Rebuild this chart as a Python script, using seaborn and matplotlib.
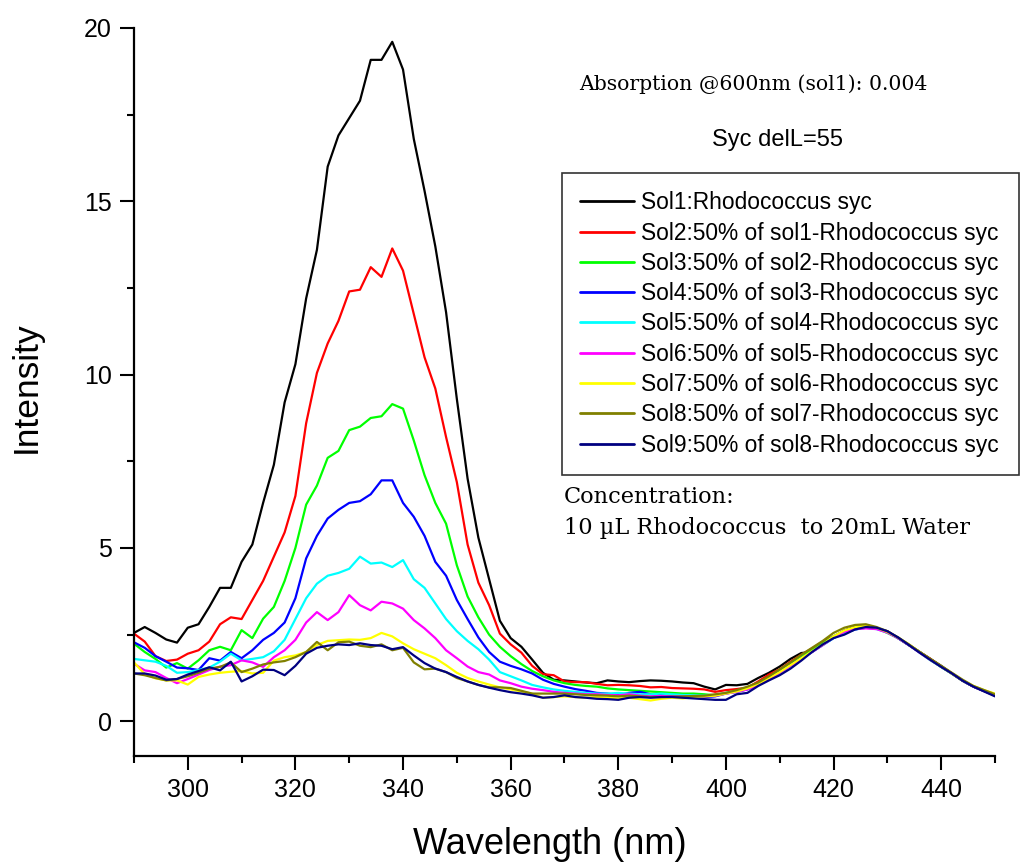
import numpy as np
import pandas as pd
import matplotlib
matplotlib.use("Agg")
import matplotlib.pyplot as plt
from matplotlib.ticker import MultipleLocator
import seaborn as sns

wavelength = list(range(290, 451, 2))

sol1 = [2.55, 2.72, 2.55, 2.36, 2.27, 2.7, 2.8, 3.3, 3.85, 3.85, 4.6, 5.1, 6.3, 7.4, 9.2, 10.3, 12.2, 13.6, 16.0, 16.9,
        17.4, 17.9, 19.08, 19.08, 19.6, 18.8, 16.8, 15.3, 13.7, 11.8, 9.3, 7.0, 5.3, 4.1, 2.9, 2.4, 2.15, 1.78, 1.4, 1.2,
        1.18, 1.15, 1.12, 1.1, 1.18, 1.15, 1.13, 1.16, 1.18, 1.17, 1.15, 1.12, 1.1, 1.0, 0.92, 1.05, 1.04, 1.08, 1.25, 1.4,
        1.58, 1.8, 1.97, 2.0, 2.25, 2.43, 2.62, 2.72, 2.75, 2.68, 2.6, 2.4, 2.2, 2.0, 1.8, 1.6, 1.38, 1.17, 1.0, 0.88, 0.75]
sol2 = [2.53, 2.3, 1.88, 1.74, 1.78, 1.95, 2.05, 2.3, 2.8, 3.0, 2.95, 3.5, 4.05, 4.75, 5.45, 6.5, 8.6, 10.05, 10.9, 11.55,
        12.4, 12.45, 13.1, 12.82, 13.64, 13.0, 11.75, 10.5, 9.6, 8.2, 6.9, 5.1, 4.0, 3.35, 2.53, 2.22, 1.98, 1.6, 1.36, 1.33,
        1.15, 1.13, 1.13, 1.08, 1.04, 1.05, 1.04, 1.02, 0.98, 0.99, 0.96, 0.95, 0.94, 0.92, 0.85, 0.9, 0.93, 0.97, 1.15, 1.35,
        1.5, 1.72, 1.92, 2.1, 2.3, 2.45, 2.6, 2.68, 2.72, 2.68, 2.58, 2.4, 2.2, 2.0, 1.8, 1.58, 1.38, 1.17, 1.0, 0.87, 0.75]
sol3 = [2.24, 2.0, 1.8, 1.55, 1.68, 1.52, 1.76, 2.05, 2.15, 2.05, 2.63, 2.4, 2.96, 3.3, 4.05, 5.0, 6.25, 6.8, 7.6, 7.8,
        8.4, 8.5, 8.75, 8.8, 9.15, 9.02, 8.1, 7.1, 6.3, 5.7, 4.5, 3.6, 3.0, 2.5, 2.15, 1.88, 1.65, 1.45, 1.3, 1.18,
        1.1, 1.05, 1.02, 1.0, 0.95, 0.92, 0.9, 0.88, 0.86, 0.84, 0.82, 0.8, 0.8, 0.78, 0.75, 0.82, 0.88, 0.95, 1.1, 1.28,
        1.45, 1.65, 1.85, 2.05, 2.25, 2.45, 2.6, 2.7, 2.72, 2.68, 2.55, 2.4, 2.2, 2.0, 1.78, 1.57, 1.37, 1.17, 1.0, 0.88, 0.77]
sol4 = [2.28, 2.12, 1.88, 1.72, 1.55, 1.53, 1.48, 1.82, 1.75, 2.0, 1.82, 2.05, 2.35, 2.55, 2.85, 3.55, 4.7, 5.35, 5.85, 6.1,
        6.3, 6.35, 6.55, 6.95, 6.95, 6.3, 5.9, 5.35, 4.6, 4.2, 3.5, 2.95, 2.42, 2.0, 1.72, 1.6, 1.5, 1.38, 1.2, 1.08,
        1.0, 0.93, 0.88, 0.82, 0.8, 0.76, 0.82, 0.85, 0.78, 0.75, 0.74, 0.72, 0.72, 0.7, 0.72, 0.8, 0.85, 0.92, 1.05, 1.25,
        1.42, 1.62, 1.82, 2.0, 2.2, 2.4, 2.55, 2.65, 2.7, 2.68, 2.58, 2.4, 2.2, 2.0, 1.78, 1.57, 1.38, 1.17, 1.0, 0.87, 0.74]
sol5 = [1.8, 1.76, 1.72, 1.6, 1.4, 1.42, 1.48, 1.55, 1.72, 1.95, 1.76, 1.8, 1.85, 2.02, 2.35, 2.95, 3.55, 3.97, 4.2, 4.28,
        4.4, 4.75, 4.55, 4.58, 4.45, 4.65, 4.1, 3.85, 3.4, 2.95, 2.6, 2.32, 2.08, 1.78, 1.42, 1.3, 1.18, 1.05, 0.98, 0.92,
        0.88, 0.85, 0.82, 0.8, 0.8, 0.82, 0.8, 0.78, 0.78, 0.8, 0.78, 0.76, 0.75, 0.74, 0.76, 0.82, 0.86, 0.93, 1.05, 1.22,
        1.4, 1.6, 1.8, 2.0, 2.2, 2.4, 2.55, 2.65, 2.7, 2.66, 2.56, 2.4, 2.2, 1.98, 1.76, 1.57, 1.38, 1.18, 1.0, 0.88, 0.77]
sol6 = [1.66, 1.47, 1.42, 1.25, 1.1, 1.22, 1.35, 1.48, 1.58, 1.62, 1.76, 1.7, 1.57, 1.85, 2.05, 2.35, 2.85, 3.15, 2.92, 3.15,
        3.64, 3.35, 3.2, 3.45, 3.4, 3.25, 2.92, 2.68, 2.4, 2.05, 1.82, 1.58, 1.42, 1.35, 1.18, 1.1, 1.0, 0.94, 0.9, 0.85,
        0.82, 0.8, 0.78, 0.78, 0.76, 0.75, 0.78, 0.74, 0.72, 0.73, 0.72, 0.72, 0.73, 0.72, 0.74, 0.8, 0.85, 0.92, 1.05, 1.22,
        1.4, 1.6, 1.8, 2.0, 2.2, 2.42, 2.58, 2.66, 2.68, 2.66, 2.56, 2.4, 2.2, 1.98, 1.77, 1.58, 1.38, 1.18, 1.0, 0.88, 0.78]
sol7 = [1.7, 1.36, 1.24, 1.18, 1.18, 1.06, 1.28, 1.35, 1.4, 1.43, 1.45, 1.38, 1.4, 1.75, 1.85, 1.9, 2.0, 2.2, 2.32, 2.34,
        2.36, 2.35, 2.4, 2.55, 2.45, 2.25, 2.08, 1.95, 1.82, 1.62, 1.4, 1.25, 1.15, 1.06, 0.98, 0.92, 0.86, 0.8, 0.68, 0.7,
        0.72, 0.7, 0.68, 0.7, 0.68, 0.66, 0.68, 0.64, 0.6, 0.65, 0.68, 0.66, 0.7, 0.72, 0.74, 0.8, 0.86, 0.95, 1.08, 1.25,
        1.42, 1.62, 1.82, 2.02, 2.22, 2.45, 2.62, 2.72, 2.76, 2.7, 2.58, 2.42, 2.22, 2.0, 1.78, 1.58, 1.38, 1.18, 1.02, 0.9, 0.8]
sol8 = [1.38, 1.33, 1.25, 1.18, 1.22, 1.3, 1.4, 1.52, 1.57, 1.7, 1.42, 1.52, 1.64, 1.7, 1.74, 1.85, 2.0, 2.29, 2.05, 2.28,
        2.3, 2.18, 2.14, 2.22, 2.05, 2.12, 1.7, 1.5, 1.52, 1.42, 1.25, 1.15, 1.05, 0.98, 0.98, 0.96, 0.88, 0.8, 0.8, 0.8,
        0.8, 0.78, 0.76, 0.75, 0.74, 0.72, 0.74, 0.72, 0.7, 0.7, 0.71, 0.72, 0.73, 0.74, 0.78, 0.82, 0.9, 1.0, 1.12, 1.3,
        1.5, 1.7, 1.92, 2.12, 2.32, 2.55, 2.7, 2.78, 2.8, 2.72, 2.6, 2.42, 2.22, 2.0, 1.8, 1.6, 1.4, 1.2, 1.02, 0.9, 0.78]
sol9 = [1.38, 1.38, 1.32, 1.2, 1.22, 1.35, 1.45, 1.56, 1.47, 1.72, 1.15, 1.3, 1.49, 1.48, 1.33, 1.6, 1.95, 2.12, 2.18, 2.22,
        2.2, 2.25, 2.2, 2.18, 2.08, 2.14, 1.9, 1.68, 1.52, 1.42, 1.28, 1.15, 1.05, 0.97, 0.9, 0.84, 0.8, 0.75, 0.68, 0.7,
        0.75, 0.7, 0.68, 0.65, 0.64, 0.62, 0.68, 0.7, 0.68, 0.7, 0.7, 0.68, 0.66, 0.64, 0.62, 0.62, 0.78, 0.82, 1.02, 1.18,
        1.33, 1.52, 1.75, 2.0, 2.22, 2.4, 2.5, 2.65, 2.72, 2.7, 2.6, 2.42, 2.2, 1.98, 1.77, 1.57, 1.38, 1.17, 1.0, 0.86, 0.72]

series_labels = [
    "Sol1:Rhodococcus syc",
    "Sol2:50% of sol1-Rhodococcus syc",
    "Sol3:50% of sol2-Rhodococcus syc",
    "Sol4:50% of sol3-Rhodococcus syc",
    "Sol5:50% of sol4-Rhodococcus syc",
    "Sol6:50% of sol5-Rhodococcus syc",
    "Sol7:50% of sol6-Rhodococcus syc",
    "Sol8:50% of sol7-Rhodococcus syc",
    "Sol9:50% of sol8-Rhodococcus syc",
]
series_values = [sol1, sol2, sol3, sol4, sol5, sol6, sol7, sol8, sol9]
colors = ["#000000", "#FF0000", "#00FF00", "#0000FF", "#00FFFF",
          "#FF00FF", "#FFFF00", "#808000", "#000080"]

frames = []
for lab, vals in zip(series_labels, series_values):
    frames.append(pd.DataFrame({"Wavelength": wavelength, "Intensity": vals, "Series": lab}))
df = pd.concat(frames, ignore_index=True)

sns.set_style("ticks")
plt.rcParams["font.family"] = ["Liberation Sans", "DejaVu Sans"]
plt.rcParams["text.color"] = "black"
plt.rcParams["axes.labelcolor"] = "black"
SERIF = ["DejaVu Serif", "Liberation Serif"]

fig = plt.figure(figsize=(10.21, 8.63), dpi=100)
ax = fig.add_axes([0.1312, 0.124, 0.8433, 0.8436])

sns.lineplot(data=df, x="Wavelength", y="Intensity", hue="Series",
             hue_order=series_labels, palette=colors, linewidth=1.6,
             sort=False, estimator=None, ax=ax)

ax.set_xlim(290, 450)
ax.set_ylim(-1, 20)
ax.xaxis.set_major_locator(MultipleLocator(20))
ax.xaxis.set_minor_locator(MultipleLocator(10))
ax.yaxis.set_major_locator(MultipleLocator(5))
ax.yaxis.set_minor_locator(MultipleLocator(2.5))
ax.tick_params(axis="both", which="major", direction="out", length=10, width=1.5,
               labelsize=18, color="black", labelcolor="black", pad=6)
ax.tick_params(axis="both", which="minor", direction="out", length=5, width=1.5, color="black")
for side in ["top", "right"]:
    ax.spines[side].set_visible(False)
for side in ["left", "bottom"]:
    ax.spines[side].set_linewidth(1.6)
    ax.spines[side].set_color("black")

ax.set_xlabel("Wavelength (nm)", fontsize=26, color="black")
ax.set_ylabel("Intensity", fontsize=25.5, color="black")
ax.xaxis.label.set_va("center")
ax.yaxis.label.set_va("center")
ax.xaxis.set_label_coords(0.4826, -0.122)
ax.yaxis.set_label_coords(-0.1254, 0.507)

handles, labels = ax.get_legend_handles_labels()
leg = ax.legend(handles, labels, loc="upper left",
                bbox_to_anchor=(0.5504, 0.4524, 0.4476, 0.3471),
                bbox_transform=fig.transFigure, mode="expand", borderaxespad=0,
                fontsize=16.4, frameon=True, fancybox=False, edgecolor="black",
                handlelength=2.36, handletextpad=0.3, labelspacing=0.32,
                borderpad=0.8, title=None)
leg.get_frame().set_linewidth(1.2)
for t in leg.get_texts():
    t.set_color("black")
for h in leg.get_lines():
    h.set_linewidth(2.0)

fig.text(0.567, 0.9027, "Absorption @600nm (sol1): 0.004", fontsize=14.7,
         family=SERIF, va="center", ha="left", color="black")
fig.text(0.7615, 0.8378, "Syc delL=55", fontsize=17, va="center", ha="center", color="black")
fig.text(0.5525, 0.4241, "Concentration:", fontsize=16.2,
         family=SERIF, va="center", ha="left", color="black")
fig.text(0.5525, 0.3882, "10 \u00b5L Rhodococcus  to 20mL Water", fontsize=16.2,
         family=SERIF, va="center", ha="left", color="black")

fig.savefig("out.png", dpi=100, facecolor="white")
